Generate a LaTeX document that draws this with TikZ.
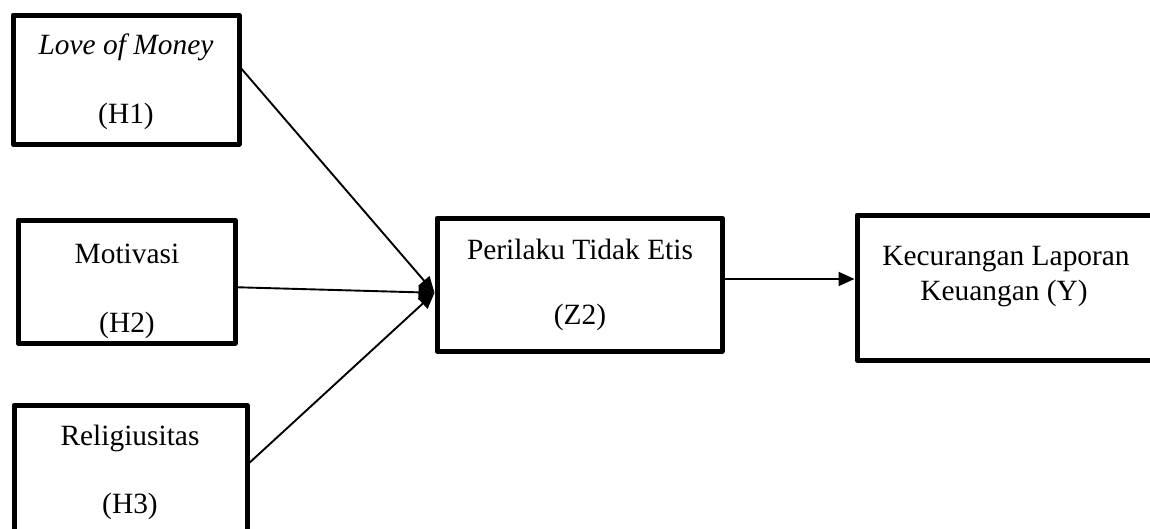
\documentclass[tikz,border=0pt]{standalone}
\usepackage{fontspec}
\setmainfont{Liberation Serif}
\usetikzlibrary{arrows.meta,calc}

\tikzset{
  box/.style={draw=black, line width=5pt, line join=round, inner sep=0pt, fill=none},
  txt/.style={anchor=base, inner sep=0pt, font=\fontsize{29.4}{35}\selectfont},
  link/.style={draw=black, line width=1.9pt, -{Triangle[length=16pt,width=14pt]}}
}

\begin{document}
\begin{tikzpicture}[x=1pt,y=-1pt]
\useasboundingbox (0,0) rectangle (1150,528);
\begin{scope}
\clip (0,0) rectangle (1150,528);

% boxes
\node[box, minimum width=226pt, minimum height=129pt] (b1) at (126,79.5) {};
\node[box, minimum width=217pt, minimum height=123pt] (b2) at (126.5,281.5) {};
\node[box, minimum width=233pt, minimum height=135pt] (b3) at (130.5,472.5) {};
\node[box, minimum width=285pt, minimum height=133pt] (b4) at (579.5,284.5) {};
\node[box, minimum width=308pt, minimum height=145pt] (b5) at (1011,287.5) {};

% labels
\node[txt] (t1a) at (126,54) {\itshape Love of Money};
\node[txt] (t1b) at (126,123) {(H1)};
\node[txt] (t2a) at (127,263) {Motivasi};
\node[txt] (t2b) at (127,332) {(H2)};
\node[txt] (t3a) at (130,445) {Religiusitas};
\node[txt] (t3b) at (130,513) {(H3)};
\node[txt] (t4a) at (580,259) {Perilaku Tidak Etis};
\node[txt] (t4b) at (580,324) {(Z2)};
\node[txt] (t5a) at (1006,265) {Kecurangan Laporan};
\node[txt] (t5b) at (1004,300) {Keuangan (Y)};

% connection points
\coordinate (s1) at ($(b1.north east)!0.42!(b1.south east)$);
\coordinate (s2) at ($(b2.north east)!0.545!(b2.south east)$);
\coordinate (s3) at ($(b3.north east)!0.43!(b3.south east)$);
\coordinate (hub) at ($(b4.north west)!0.56!(b4.south west)$);
\coordinate (s4) at ($(b4.north east)!0.46!(b4.south east)$);

% connectors
\draw[link] (s1) -- (hub);
\draw[link] (s2) -- (hub);
\draw[link] (s3) -- (hub);
\draw[link] (s4) -- (s4 -| b5.west);
\end{scope}
\end{tikzpicture}
\end{document}
